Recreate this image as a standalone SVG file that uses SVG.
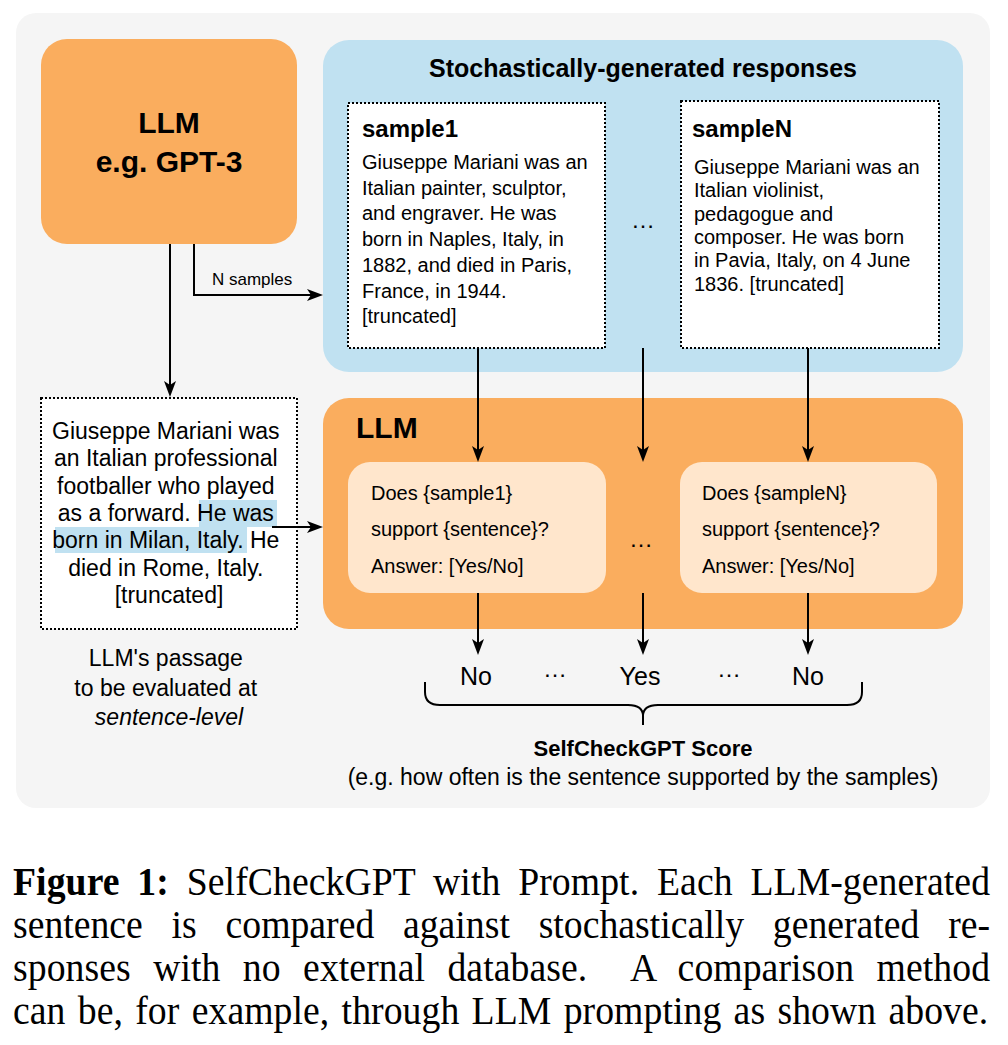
<svg xmlns="http://www.w3.org/2000/svg" width="1008" height="1045" viewBox="0 0 1008 1045">
<defs>
<style>
.sans{font-family:"Liberation Sans",Arial,sans-serif;fill:#000}
.b{font-weight:bold}
.dot{fill:#fff;stroke:#000;stroke-width:2;stroke-dasharray:2 2}
.conn{fill:none;stroke:#000;stroke-width:2;marker-end:url(#ah)}
.cap{font-family:"Liberation Serif","Times New Roman",serif;font-size:41px;fill:#000}
</style>
<marker id="ah" viewBox="0 0 16 12" refX="11" refY="6" markerWidth="16" markerHeight="12" orient="auto" markerUnits="userSpaceOnUse">
<path d="M0,0 L16,6 L0,12 L4,6 Z" fill="#000"/>
</marker>
</defs>
<rect width="1008" height="1045" fill="#fff"/>
<rect id="background" x="16" y="13" width="974" height="795" rx="20" fill="#f5f5f5"/>

<g id="llm-top">
<rect x="41" y="39" width="256" height="205" rx="26" fill="#faad5e"/>
<text class="sans b" x="169" y="133" font-size="30" text-anchor="middle">LLM</text>
<text class="sans b" x="169" y="172" font-size="30" text-anchor="middle">e.g. GPT-3</text>
</g>

<g id="responses">
<rect x="323" y="40" width="640" height="332" rx="26" fill="#c0e1f1"/>
<text class="sans b" x="643" y="77" font-size="25" text-anchor="middle">Stochastically-generated responses</text>
</g>

<g id="sample1">
<rect class="dot" x="348" y="103" width="257" height="245"/>
<text class="sans b" x="362" y="137" font-size="24">sample1</text>
<text class="sans" font-size="20">
<tspan x="362" y="169">Giuseppe Mariani was an</tspan>
<tspan x="362" y="194.7">Italian painter, sculptor,</tspan>
<tspan x="362" y="220.4">and engraver. He was</tspan>
<tspan x="362" y="246">born in Naples, Italy, in</tspan>
<tspan x="362" y="271.8">1882, and died in Paris,</tspan>
<tspan x="362" y="297.5">France, in 1944.</tspan>
<tspan x="362" y="323">[truncated]</tspan>
</text>
</g>

<text id="dots-top" class="sans" x="643" y="228" font-size="24" text-anchor="middle">…</text>

<g id="sampleN">
<rect class="dot" x="681" y="101" width="258" height="247"/>
<text class="sans b" x="692" y="137" font-size="24">sampleN</text>
<text class="sans" font-size="20">
<tspan x="694" y="174">Giuseppe Mariani was an</tspan>
<tspan x="694" y="197.3">Italian violinist,</tspan>
<tspan x="694" y="220.6">pedagogue and</tspan>
<tspan x="694" y="244">composer. He was born</tspan>
<tspan x="694" y="267.3">in Pavia, Italy, on 4 June</tspan>
<tspan x="694" y="290.6">1836. [truncated]</tspan>
</text>
</g>

<g id="llm-check">
<rect x="323" y="398" width="640" height="231" rx="26" fill="#faad5e"/>
<text class="sans b" x="356" y="438" font-size="30">LLM</text>
</g>

<g id="prompt1">
<rect x="348" y="462" width="258" height="131" rx="22" fill="#ffe6cc"/>
<text class="sans" font-size="20">
<tspan x="371" y="500">Does {sample1}</tspan>
<tspan x="371" y="536">support {sentence}?</tspan>
<tspan x="371" y="573">Answer: [Yes/No]</tspan>
</text>
</g>

<text id="dots-mid" class="sans" x="641" y="547" font-size="24" text-anchor="middle">…</text>

<g id="promptN">
<rect x="680" y="462" width="257" height="131" rx="22" fill="#ffe6cc"/>
<text class="sans" font-size="20">
<tspan x="702" y="500">Does {sampleN}</tspan>
<tspan x="702" y="536">support {sentence}?</tspan>
<tspan x="702" y="573">Answer: [Yes/No]</tspan>
</text>
</g>

<g id="passage">
<rect class="dot" x="41" y="398" width="256" height="231"/>
<rect x="199" y="500" width="78" height="27" fill="#c0e1f1"/>
<rect x="55" y="527" width="192" height="26" fill="#c0e1f1"/>
<text class="sans" font-size="23" text-anchor="middle">
<tspan x="169" y="439">Giuseppe Mariani was</tspan>
<tspan x="169" y="466.3">an Italian professional</tspan>
<tspan x="169" y="493.6">footballer who played</tspan>
<tspan x="169" y="521">as a forward. He was</tspan>
<tspan x="169" y="548">born in Milan, Italy. He</tspan>
<tspan x="169" y="575.5">died in Rome, Italy.</tspan>
<tspan x="169" y="603">[truncated]</tspan>
</text>
</g>

<g id="passage-label">
<text class="sans" font-size="23" text-anchor="middle">
<tspan x="169" y="666">LLM's passage</tspan>
<tspan x="169" y="696">to be evaluated at</tspan>
<tspan x="169" y="725" font-style="italic">sentence-level</tspan>
</text>
</g>

<g id="answers">
<text class="sans" x="476" y="685" font-size="25" text-anchor="middle">No</text>
<text class="sans" x="555" y="677" font-size="24" text-anchor="middle">…</text>
<text class="sans" x="640" y="685" font-size="25" text-anchor="middle">Yes</text>
<text class="sans" x="729" y="677" font-size="24" text-anchor="middle">…</text>
<text class="sans" x="808" y="685" font-size="25" text-anchor="middle">No</text>
</g>

<g id="score">
<path d="M425,682 V692 Q425,705 440,705 H628 Q643,705 643,716 V725 M862,682 V692 Q862,705 847,705 H658 Q643,705 643,716" fill="none" stroke="#000" stroke-width="2"/>
<text class="sans b" x="643" y="756" font-size="22" text-anchor="middle">SelfCheckGPT Score</text>
<text class="sans" x="643" y="785" font-size="23" text-anchor="middle">(e.g. how often is the sentence supported by the samples)</text>
</g>

<g id="connectors">
<path class="conn" d="M170,244 V392"/>
<path class="conn" d="M194,244 V295 H318"/>
<text class="sans" x="212" y="285" font-size="17">N samples</text>
<path class="conn" d="M478,348 V457"/>
<path class="conn" d="M643,348 V457"/>
<path class="conn" d="M808,348 V457"/>
<path class="conn" d="M478,593 V650"/>
<path class="conn" d="M643,593 V650"/>
<path class="conn" d="M808,593 V650"/>
<path class="conn" d="M272,527 H318"/>
</g>

<g id="caption">
<text class="cap" transform="matrix(0.92 0 0 1 13 895)" x="0" y="0" textLength="1062" lengthAdjust="spacing" word-spacing="9"><tspan font-weight="bold">Figure 1:</tspan> SelfCheckGPT with Prompt. Each LLM-generated</text>
<text class="cap" transform="matrix(0.92 0 0 1 13 938)" x="0" y="0" textLength="1062" lengthAdjust="spacing" word-spacing="21">sentence is compared against stochastically generated re-</text>
<text class="cap" transform="matrix(0.92 0 0 1 13 981)" x="0" y="0" textLength="1062" lengthAdjust="spacing" word-spacing="14">sponses with no external database.&#160; A comparison method</text>
<text class="cap" transform="matrix(0.92 0 0 1 13 1024)" x="0" y="0" textLength="1060" lengthAdjust="spacing" word-spacing="3">can be, for example, through LLM prompting as shown above.</text>
</g>
</svg>
